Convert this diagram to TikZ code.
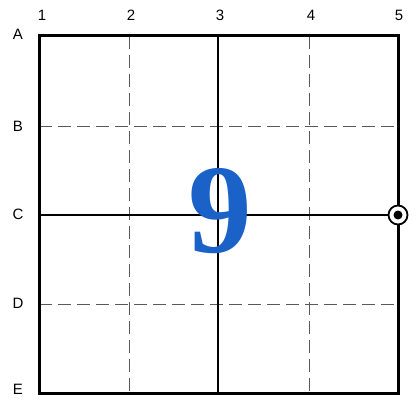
\documentclass[tikz,border=0pt]{standalone}
\usepackage{fontspec}
\setmainfont{Liberation Sans}
\newfontfamily\digitfont{Liberation Serif}
\definecolor{nineblue}{HTML}{1A62C8}
\begin{document}
\begin{tikzpicture}[x=1pt,y=-1pt,
  lbl/.style={font=\fontsize{15}{15}\selectfont, inner sep=0pt},
  dashline/.style={draw=black!65, line width=0.9pt, dash pattern=on 13pt off 6pt},
  midline/.style={draw=black, line width=1.3pt},
  frame/.style={draw=black, line width=3pt}]
\useasboundingbox (0,0) rectangle (419,398);
% coordinates
\coordinate (TL) at (39,36);
\coordinate (BR) at (398,393);
% dashed grid
\foreach \x in {129,309} \draw[dashline] (\x,36) -- (\x,393);
\foreach \y in {126,304} \draw[dashline] (39,\y) -- (398,\y);
% solid center lines
\draw[midline] (218,36) -- (218,393);
\draw[midline] (39,215) -- (398,215);
% frame
\draw[frame] (TL) rectangle (BR);
% digit
\node[anchor=base, inner sep=0pt, text=nineblue, font=\digitfont\bfseries\fontsize{127}{127}\selectfont] (nine) at (220,252) {9};
% marker
\node[circle, draw=black, fill=white, line width=1.8pt, minimum size=19pt, inner sep=0pt] (mk) at (398,215) {};
\fill[black] (mk.center) circle (4.5pt);
% labels
\node[lbl] (c1) at (42,15) {1};
\node[lbl] (c2) at (131,15) {2};
\node[lbl] (c3) at (220,15) {3};
\node[lbl] (c4) at (311,15) {4};
\node[lbl] (c5) at (399,15) {5};
\node[lbl] (rA) at (18,34) {A};
\node[lbl] (rB) at (18,126) {B};
\node[lbl] (rC) at (18,214) {C};
\node[lbl] (rD) at (18,303) {D};
\node[lbl] (rE) at (18,389) {E};
\end{tikzpicture}
\end{document}
